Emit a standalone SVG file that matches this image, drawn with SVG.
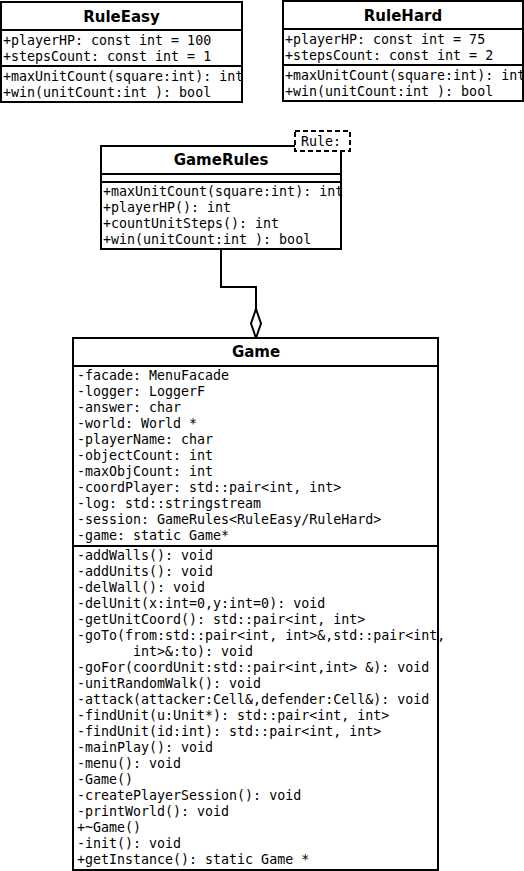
<svg xmlns="http://www.w3.org/2000/svg" width="524" height="871" viewBox="0 0 524 871">
<style>
.box{fill:#fff;stroke:#000;stroke-width:2}
.div{stroke:#000;stroke-width:2;fill:none}
.t{font-family:"DejaVu Sans","Liberation Sans",sans-serif;font-weight:bold;font-size:15px;text-anchor:middle;fill:#000}
.m{font-family:"DejaVu Sans Mono","Liberation Mono",monospace;font-size:13.3px;fill:#000;white-space:pre}
.conn{stroke:#000;stroke-width:2;fill:none}
</style>
<rect width="524" height="871" fill="#fff"/>
<g id="RuleEasy">
<rect class="box" x="1" y="2" width="241" height="100"/>
<line class="div" x1="1" y1="30" x2="242" y2="30"/>
<line class="div" x1="1" y1="66" x2="242" y2="66"/>
<text class="t" x="121.5" y="21.5">RuleEasy</text>
<text class="m" x="3" y="45">+playerHP: const int = 100</text>
<text class="m" x="3" y="61">+stepsCount: const int = 1</text>
<text class="m" x="3" y="81">+maxUnitCount(square:int): int</text>
<text class="m" x="3" y="97">+win(unitCount:int ): bool</text>
</g>
<g id="RuleHard">
<rect class="box" x="283" y="1" width="240" height="100"/>
<line class="div" x1="283" y1="29" x2="523" y2="29"/>
<line class="div" x1="283" y1="65" x2="523" y2="65"/>
<text class="t" x="403" y="20.5">RuleHard</text>
<text class="m" x="285" y="44">+playerHP: const int = 75</text>
<text class="m" x="285" y="60">+stepsCount: const int = 2</text>
<text class="m" x="285" y="80">+maxUnitCount(square:int): int</text>
<text class="m" x="285" y="96">+win(unitCount:int ): bool</text>
</g>
<g id="GameRules">
<rect class="box" x="101" y="146" width="240" height="103"/>
<line class="div" x1="101" y1="174" x2="341" y2="174"/>
<line class="div" x1="101" y1="182" x2="341" y2="182"/>
<text class="t" x="221" y="165">GameRules</text>
<text class="m" x="103" y="196">+maxUnitCount(square:int): int</text>
<text class="m" x="103" y="212">+playerHP(): int</text>
<text class="m" x="103" y="228">+countUnitSteps(): int</text>
<text class="m" x="103" y="244">+win(unitCount:int ): bool</text>
<rect x="295" y="131" width="55" height="20" fill="#fff" stroke="#000" stroke-width="2" stroke-dasharray="5,3"/>
<text class="m" x="301" y="146">Rule:</text>
</g>
<g id="connectors">
<polyline class="conn" points="221,249 221,287 256,287 256,309"/>
<polygon points="256,309 261,323.5 256,338 251,323.5" fill="#fff" stroke="#000" stroke-width="2"/>
</g>
<g id="Game">
<rect class="box" x="73" y="338" width="365" height="532"/>
<line class="div" x1="73" y1="366" x2="438" y2="366"/>
<line class="div" x1="73" y1="546" x2="438" y2="546"/>
<text class="t" x="256" y="357">Game</text>
<text class="m" x="77" y="380">-facade: MenuFacade</text>
<text class="m" x="77" y="396">-logger: LoggerF</text>
<text class="m" x="77" y="412">-answer: char</text>
<text class="m" x="77" y="428">-world: World *</text>
<text class="m" x="77" y="444">-playerName: char</text>
<text class="m" x="77" y="460">-objectCount: int</text>
<text class="m" x="77" y="476">-maxObjCount: int</text>
<text class="m" x="77" y="492">-coordPlayer: std::pair&lt;int, int&gt;</text>
<text class="m" x="77" y="508">-log: std::stringstream</text>
<text class="m" x="77" y="524">-session: GameRules&lt;RuleEasy/RuleHard&gt;</text>
<text class="m" x="77" y="540">-game: static Game*</text>
<text class="m" x="77" y="560">-addWalls(): void</text>
<text class="m" x="77" y="576">-addUnits(): void</text>
<text class="m" x="77" y="592">-delWall(): void</text>
<text class="m" x="77" y="608">-delUnit(x:int=0,y:int=0): void</text>
<text class="m" x="77" y="624">-getUnitCoord(): std::pair&lt;int, int&gt;</text>
<text class="m" x="77" y="640">-goTo(from:std::pair&lt;int, int&gt;&amp;,std::pair&lt;int,</text>
<text class="m" x="133" y="656">int&gt;&amp;:to): void</text>
<text class="m" x="77" y="672">-goFor(coordUnit:std::pair&lt;int,int&gt; &amp;): void</text>
<text class="m" x="77" y="688">-unitRandomWalk(): void</text>
<text class="m" x="77" y="704">-attack(attacker:Cell&amp;,defender:Cell&amp;): void</text>
<text class="m" x="77" y="720">-findUnit(u:Unit*): std::pair&lt;int, int&gt;</text>
<text class="m" x="77" y="736">-findUnit(id:int): std::pair&lt;int, int&gt;</text>
<text class="m" x="77" y="752">-mainPlay(): void</text>
<text class="m" x="77" y="768">-menu(): void</text>
<text class="m" x="77" y="784">-Game()</text>
<text class="m" x="77" y="800">-createPlayerSession(): void</text>
<text class="m" x="77" y="816">-printWorld(): void</text>
<text class="m" x="77" y="832">+~Game()</text>
<text class="m" x="77" y="848">-init(): void</text>
<text class="m" x="77" y="864">+getInstance(): static Game *</text>
</g>
</svg>
